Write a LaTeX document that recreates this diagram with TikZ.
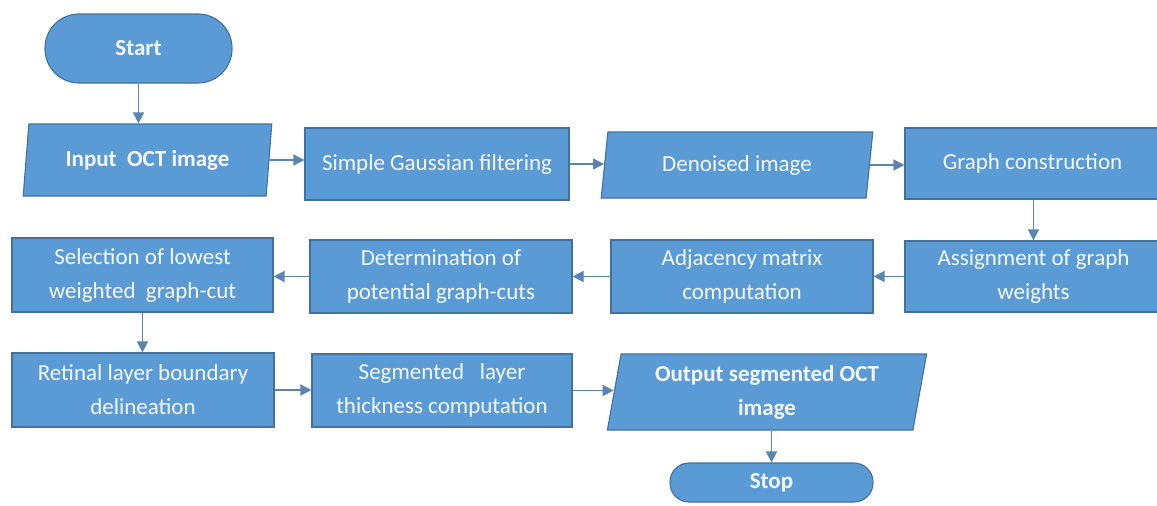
\documentclass[tikz,border=0pt]{standalone}
\usepackage{fontspec}
\setmainfont{Carlito}
\usetikzlibrary{shapes.geometric,arrows.meta}
\definecolor{boxfill}{HTML}{5B9BD5}
\definecolor{boxline}{HTML}{41719C}
\definecolor{arrline}{HTML}{5A84B2}
\definecolor{txt}{HTML}{F4F7FB}
\tikzset{
  base/.style={fill=boxfill, draw=boxline, line width=1.1pt, text=txt, align=center,
    inner sep=0pt, font=\fontsize{23}{34}\selectfont},
  procbox/.style={base, rectangle},
  iobox/.style={base, trapezium, trapezium left angle=79, trapezium right angle=101,
    trapezium stretches=true},
  boldtext/.style={font=\fontsize{23}{34}\selectfont\bfseries},
  termbox/.style={base, rectangle, boldtext},
  arr/.style={draw=arrline, line width=1.4pt, -{Triangle[length=11pt,width=11pt]}, arrline}
}
\begin{document}
\begin{tikzpicture}[x=1pt,y=-1pt]
\useasboundingbox[fill=white] (0,0) rectangle (1157,506);
% row 1
\node[termbox, rounded corners=34pt, minimum width=187pt, minimum height=69pt] (start) at (138.5,48.5) {Start};
\node[iobox, boldtext, minimum width=249pt, minimum height=72pt] (input) at (147.5,160) {Input\ \ OCT image};
\node[procbox, minimum width=264pt, minimum height=72pt] (simple) at (437,164) {Simple Gaussian filtering};
\node[iobox, minimum width=272pt, minimum height=66pt] (denoised) at (737,165) {Denoised image};
\node[procbox, minimum width=257pt, minimum height=71pt] (graph) at (1033.5,163.5) {\hspace*{-2pt}Graph construction};
% row 2
\node[procbox, minimum width=257pt, minimum height=71pt] (assign) at (1033.5,276.5) {Assignment of graph\\weights};
\node[procbox, minimum width=262pt, minimum height=73pt] (adj) at (742,276.5) {Adjacency matrix\\computation};
\node[procbox, minimum width=262pt, minimum height=73pt] (determ) at (441,276.5) {Determination of\\potential graph-cuts};
\node[procbox, minimum width=261pt, minimum height=74pt] (select) at (142.5,275) {Selection of lowest\\weighted\ \ graph-cut};
% row 3
\node[procbox, minimum width=262pt, minimum height=74pt] (retinal) at (143,390) {Retinal layer boundary\\delineation};
\node[procbox, minimum width=260pt, minimum height=73pt] (segmented) at (442,390.5) {Segmented\ \ \ layer\\thickness computation};
\node[iobox, boldtext, minimum width=320pt, minimum height=76pt] (output) at (767,392) {Output segmented OCT\\image};
\node[termbox, rounded corners=19pt, minimum width=203pt, minimum height=39pt] (stop) at (771.5,482.5) {Stop};
% connectors
\draw[arr] (start.south) -- (start.south |- input.north);
\draw[arr] (input.east) -- (input.east -| simple.west);
\draw[arr] (simple.east) -- (simple.east -| denoised.west);
\draw[arr] (denoised.east) -- (denoised.east -| graph.west);
\draw[arr] (graph.south) -- (assign.north);
\draw[arr] (assign.west) -- (adj.east);
\draw[arr] (adj.west) -- (determ.east);
\draw[arr] (determ.west) -- (determ.west -| select.east);
\draw[arr] (select.south) -- (select.south |- retinal.north);
\draw[arr] (retinal.east) -- (retinal.east -| segmented.west);
\draw[arr] (segmented.east) -- (segmented.east -| output.west);
\draw[arr] (stop.north |- output.south) -- (stop.north);
\end{tikzpicture}
\end{document}
